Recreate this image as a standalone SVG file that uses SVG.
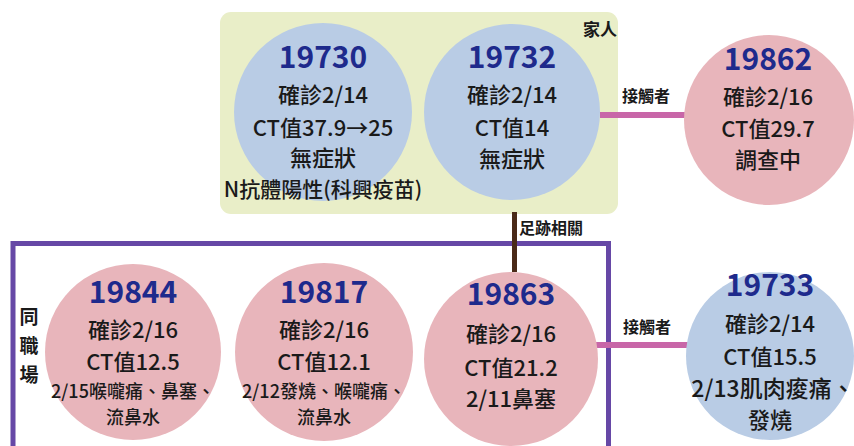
<svg xmlns="http://www.w3.org/2000/svg" width="854" height="446" viewBox="0 0 854 446">
<style>
text{font-family:"Noto Sans CJK TC","Noto Sans CJK SC",sans-serif;text-anchor:middle;fill:#1a1a1a}
.num{font-size:30px;font-weight:700;fill:#1e2a8c}
.t{font-size:22px;font-weight:500}
.s{font-size:18px;font-weight:500}
.lbl{font-size:16px;font-weight:700}
.blue{fill:#b9cce5}
.pink{fill:#e8b5bb}
</style>
<rect width="854" height="446" fill="#ffffff"/>
<g id="family-group">
<rect x="220" y="12" width="398" height="202" rx="11" fill="#e9eec8"/>
<text class="lbl" x="600" y="36" style="font-size:17px">家人</text>
</g>
<g id="workplace-group">
<rect x="13" y="243.5" width="595.5" height="230" fill="none" stroke="#6648a6" stroke-width="5"/>
<text class="lbl" x="29" y="324" style="font-size:19px">同</text>
<text class="lbl" x="29" y="353" style="font-size:19px">職</text>
<text class="lbl" x="29" y="382" style="font-size:19px">場</text>
</g>
<g id="connectors">
<line x1="600" y1="115" x2="687" y2="115" stroke="#c866a8" stroke-width="6"/>
<text class="lbl" x="646" y="102">接觸者</text>
<line x1="514.5" y1="212" x2="514.5" y2="272" stroke="#4a2a18" stroke-width="5"/>
<text class="lbl" x="551" y="234">足跡相關</text>
<line x1="596" y1="345" x2="688" y2="345" stroke="#c866a8" stroke-width="6"/>
<text class="lbl" x="647" y="333">接觸者</text>
</g>
<g id="n19730">
<circle class="blue" cx="323" cy="112" r="89"/>
<text class="num" x="323" y="68">19730</text>
<text class="t" x="323" y="103">確診2/14</text>
<text class="t" x="323" y="136">CT值37.9→25</text>
<text class="t" x="323" y="166">無症狀</text>
<text class="t" x="323" y="197" style="font-size:21px">N抗體陽性(科興疫苗)</text>
</g>
<g id="n19732">
<circle class="blue" cx="512" cy="112" r="88"/>
<text class="num" x="512" y="68">19732</text>
<text class="t" x="512" y="103">確診2/14</text>
<text class="t" x="512" y="136">CT值14</text>
<text class="t" x="512" y="167">無症狀</text>
</g>
<g id="n19862">
<circle class="pink" cx="769" cy="120" r="85"/>
<text class="num" x="768" y="70">19862</text>
<text class="t" x="768" y="105">確診2/16</text>
<text class="t" x="768" y="137">CT值29.7</text>
<text class="t" x="768" y="168">調查中</text>
</g>
<g id="n19844">
<circle class="pink" cx="133" cy="352" r="88"/>
<text class="num" x="133" y="303">19844</text>
<text class="t" x="133" y="338">確診2/16</text>
<text class="t" x="133" y="370">CT值12.5</text>
<text class="s" x="133" y="398">2/15喉嚨痛、鼻塞、</text>
<text class="s" x="133" y="424">流鼻水</text>
</g>
<g id="n19817">
<circle class="pink" cx="324" cy="352" r="89"/>
<text class="num" x="324" y="303">19817</text>
<text class="t" x="324" y="338">確診2/16</text>
<text class="t" x="324" y="370">CT值12.1</text>
<text class="s" x="324" y="398">2/12發燒、喉嚨痛、</text>
<text class="s" x="324" y="424">流鼻水</text>
</g>
<g id="n19863">
<circle class="pink" cx="511" cy="359" r="87"/>
<text class="num" x="511" y="305">19863</text>
<text class="t" x="511" y="342">確診2/16</text>
<text class="t" x="511" y="376">CT值21.2</text>
<text class="t" x="511" y="407">2/11鼻塞</text>
</g>
<g id="n19733">
<circle class="blue" cx="770" cy="356" r="84"/>
<text class="num" x="770" y="296">19733</text>
<text class="t" x="770" y="332">確診2/14</text>
<text class="t" x="770" y="365">CT值15.5</text>
<text class="t" x="773" y="397" style="font-size:23px">2/13肌肉痠痛、</text>
<text class="t" x="770" y="428">發燒</text>
</g>
</svg>
